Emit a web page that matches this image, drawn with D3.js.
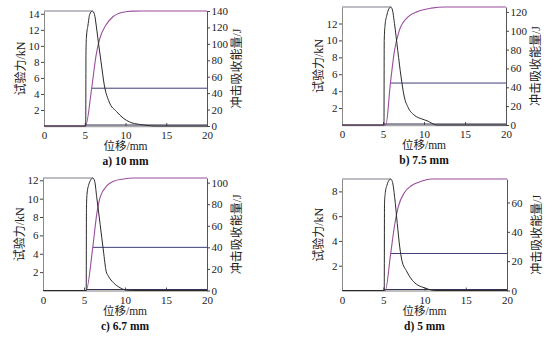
<!DOCTYPE html>
<html><head><meta charset="utf-8">
<script src="https://cdn.jsdelivr.net/npm/d3@7/dist/d3.min.js"></script>
<style>
body{margin:0;background:#fff;}
svg{display:block;}
</style></head>
<body>
<svg id="c" width="554" height="346"></svg>
<script>
// ---------- data ----------
const xTicks = [0, 5, 10, 15, 20];

const forceA_x = [0, 5.1, 5.12, 5.15, 5.2, 5.4, 5.6, 5.94, 6.2, 6.4, 6.6, 7.0, 7.4, 8.0, 8.9, 9.7, 10.5, 11.7, 12.9, 13.6, 20];
const forceA_kN = [0, 0, 0, 9.0, 11.0, 12.6, 13.9, 14.35, 13.9, 12.6, 11.0, 8.0, 5.1, 3.0, 1.8, 1.0, 0.5, 0.2, 0.05, 0, 0];
const energyA_x = [0, 5.1, 5.85, 6.4, 6.8, 7.6, 8.45, 9.7, 10.9, 12, 20];
const energyA_J = [0, 0, 46, 86.6, 105, 123, 133, 138.5, 139.8, 140, 140];

const forceB_x = [0, 5.1, 5.12, 5.15, 5.25, 5.45, 5.65, 5.94, 6.15, 6.4, 6.8, 7.2, 7.6, 8.05, 8.9, 9.7, 10.5, 11.3, 11.6, 20];
const forceB_kN = [0, 0, 0, 10.0, 11.8, 12.9, 13.6, 13.95, 13.6, 12.0, 8.8, 5.7, 3.3, 2.1, 1.1, 0.73, 0.45, 0.05, 0, 0];
const energyB_x = [0, 5.35, 5.9, 6.4, 7.0, 8.05, 9.3, 10.9, 12.5, 20];
const energyB_J = [0, 0, 44, 79, 100.5, 114.6, 120.6, 124, 125.2, 125.2];

const forceC_x = [0, 5.25, 5.27, 5.3, 5.37, 5.57, 5.8, 6.07, 6.3, 6.56, 6.97, 7.37, 7.7, 7.98, 8.6, 9.4, 10.2, 11, 20];
const forceC_kN = [0, 0, 0, 9.0, 10.5, 11.5, 12.0, 12.25, 11.9, 10.1, 7.2, 4.3, 2.1, 1.56, 0.84, 0.3, 0.03, 0, 0];
const energyC_x = [0, 5.26, 6.07, 6.56, 6.97, 7.8, 8.6, 9.8, 11, 20];
const energyC_J = [0, 0, 40, 71, 86.5, 97.2, 101.3, 103.4, 104.3, 104.3];

const forceD_x = [0, 5.1, 5.12, 5.15, 5.25, 5.45, 5.65, 5.9, 6.1, 6.39, 6.7, 7.0, 7.27, 7.8, 8.4, 9.0, 9.8, 10.4, 11.2, 20];
const forceD_kN = [0, 0, 0, 7.0, 7.9, 8.5, 8.85, 9.0, 8.8, 7.5, 5.4, 3.5, 2.4, 1.6, 0.93, 0.52, 0.26, 0.12, 0, 0];
const energyD_x = [0, 5.25, 5.9, 6.39, 6.8, 7.6, 8.4, 9.6, 10.8, 20];
const energyD_J = [0, 0, 25.2, 45, 56.6, 67, 71.4, 74.4, 76, 76];

// horizontal reference level (J) and its start (mm)
const levelJ = [46, 44.5, 40, 25.2];
const levelStart = [5.85, 5.9, 6.07, 5.9];
// start of the dark baseline (mm)
const baseStart = [5.1, 5.1, 5.25, 5.1];

const forceTicks = [[2,4,6,8,10,12,14],[2,4,6,8,10,12],[2,4,6,8,10,12],[2,4,6,8]];
const energyTicks = [[0,20,40,60,80,100,120,140],[0,20,40,60,80,100,120],[0,20,40,60,80,100],[0,20,40,60]];
const captions = ["a) 10 mm", "b) 7.5 mm", "c) 6.7 mm", "d) 5 mm"];
const xTitle = "位移/mm";
const leftTitle = "试验力/kN";
const rightTitle = "冲击吸收能量/J";

// ---------- layout ----------
const frames = [
  {l:44, r:207, t:11, b:126},
  {l:342, r:506, t:7, b:125},
  {l:43, r:207, t:178, b:290.5},
  {l:342, r:507, t:179, b:290.5}
];
const forceSeries = [[forceA_x, forceA_kN],[forceB_x, forceB_kN],[forceC_x, forceC_kN],[forceD_x, forceD_kN]];
const energySeries = [[energyA_x, energyA_J],[energyB_x, energyB_J],[energyC_x, energyC_J],[energyD_x, energyD_J]];

const svg = d3.select("#c");
const serif = "'Liberation Serif','DejaVu Serif','Noto Sans CJK SC',serif";
const cjk = "'Liberation Serif','Noto Sans CJK SC',serif";

frames.forEach((f, i) => {
  const [fx, fy] = forceSeries[i];
  const [ex, ey] = energySeries[i];
  const fMax = d3.max(fy), eMax = d3.max(ey);
  const x = d3.scaleLinear().domain([0, 20]).range([f.l, f.r]);
  const yF = d3.scaleLinear().domain([0, fMax]).range([f.b, f.t]);
  const yE = d3.scaleLinear().domain([0, eMax]).range([f.b, f.t]);
  const g = svg.append("g");

  // bottom axis
  const ax = g.append("g").attr("transform", `translate(0,${f.b})`)
    .call(d3.axisBottom(x).tickValues(xTicks).tickSizeInner(-3).tickSizeOuter(0).tickPadding(5.5).tickFormat(d3.format("d")));
  ax.select(".domain").attr("stroke", "#a8a8a8").attr("stroke-width", 1.6);
  ax.selectAll(".tick line").attr("stroke", "#555");
  ax.selectAll(".tick text").attr("font-family", serif).attr("font-size", 11).attr("fill", "#222");

  // left axis
  const al = g.append("g").attr("transform", `translate(${f.l},0)`)
    .call(d3.axisLeft(yF).tickValues(forceTicks[i]).tickSizeInner(3).tickSizeOuter(0).tickPadding(1.5).tickFormat(d3.format("d")));
  al.select(".domain").attr("stroke", "#8a8a8a");
  al.selectAll(".tick line").attr("stroke", "#444");
  al.selectAll(".tick text").attr("font-family", serif).attr("font-size", 11).attr("fill", "#222");

  // right axis
  const ar = g.append("g").attr("transform", `translate(${f.r},0)`)
    .call(d3.axisRight(yE).tickValues(energyTicks[i]).tickSizeInner(3).tickSizeOuter(0).tickPadding(1.5).tickFormat(d3.format("d")));
  ar.select(".domain").attr("stroke", "#555");
  ar.selectAll(".tick line").attr("stroke", "#444");
  ar.selectAll(".tick text").attr("font-family", serif).attr("font-size", 11).attr("fill", "#222");

  // dark baseline
  g.append("line")
    .attr("x1", x(baseStart[i])).attr("x2", x(20))
    .attr("y1", yF(0) - 1).attr("y2", yF(0) - 1)
    .attr("stroke", "#333355").attr("stroke-width", 1);

  // peak force reference (top line)
  const peakIdx = fy.indexOf(fMax);
  g.append("line")
    .attr("x1", x(0)).attr("x2", x(fx[peakIdx]))
    .attr("y1", yF(fMax)).attr("y2", yF(fMax))
    .attr("stroke", "#7c7c8c").attr("stroke-width", 1.1);

  // level line
  g.append("line")
    .attr("x1", x(levelStart[i])).attr("x2", x(20))
    .attr("y1", yE(levelJ[i])).attr("y2", yE(levelJ[i]))
    .attr("stroke", "#3e3e7a").attr("stroke-width", 1);

  // energy curve
  const eData = ex.map((v, k) => [v, ey[k]]);
  g.append("path").datum(eData)
    .attr("d", d3.line().x(d => x(d[0])).y(d => yE(d[1])).curve(d3.curveMonotoneX))
    .attr("fill", "none").attr("stroke", "#9a4d9e").attr("stroke-width", 1.1);

  // force curve
  const fData = fx.map((v, k) => [v, fy[k]]);
  g.append("path").datum(fData)
    .attr("d", d3.line().x(d => x(d[0])).y(d => yF(d[1])).curve(d3.curveMonotoneX))
    .attr("fill", "none").attr("stroke", "#2a2a2a").attr("stroke-width", 1);

  // titles
  const my = (f.t + f.b) / 2;
  g.append("text").attr("transform", `translate(${f.l - 22},${my}) rotate(-90)`)
    .attr("text-anchor", "middle").attr("dominant-baseline", "middle")
    .attr("font-family", cjk).attr("font-size", 12).attr("fill", "#222").text(leftTitle);
  g.append("text").attr("transform", `translate(${f.r + 31},${my}) rotate(-90)`)
    .attr("text-anchor", "middle").attr("dominant-baseline", "middle")
    .attr("font-family", cjk).attr("font-size", 12).attr("fill", "#222").text(rightTitle);
  g.append("text").attr("x", (f.l + f.r) / 2).attr("y", f.b + 21.5)
    .attr("text-anchor", "middle").attr("dominant-baseline", "middle")
    .attr("font-family", cjk).attr("font-size", 11.5).attr("fill", "#222").text(xTitle);
  g.append("text").attr("x", (f.l + f.r) / 2).attr("y", f.b + 36.5)
    .attr("text-anchor", "middle").attr("dominant-baseline", "middle")
    .attr("font-family", serif).attr("font-weight", "bold").attr("font-size", 11.5).attr("fill", "#111").text(captions[i]);
});
</script>
</body></html>
